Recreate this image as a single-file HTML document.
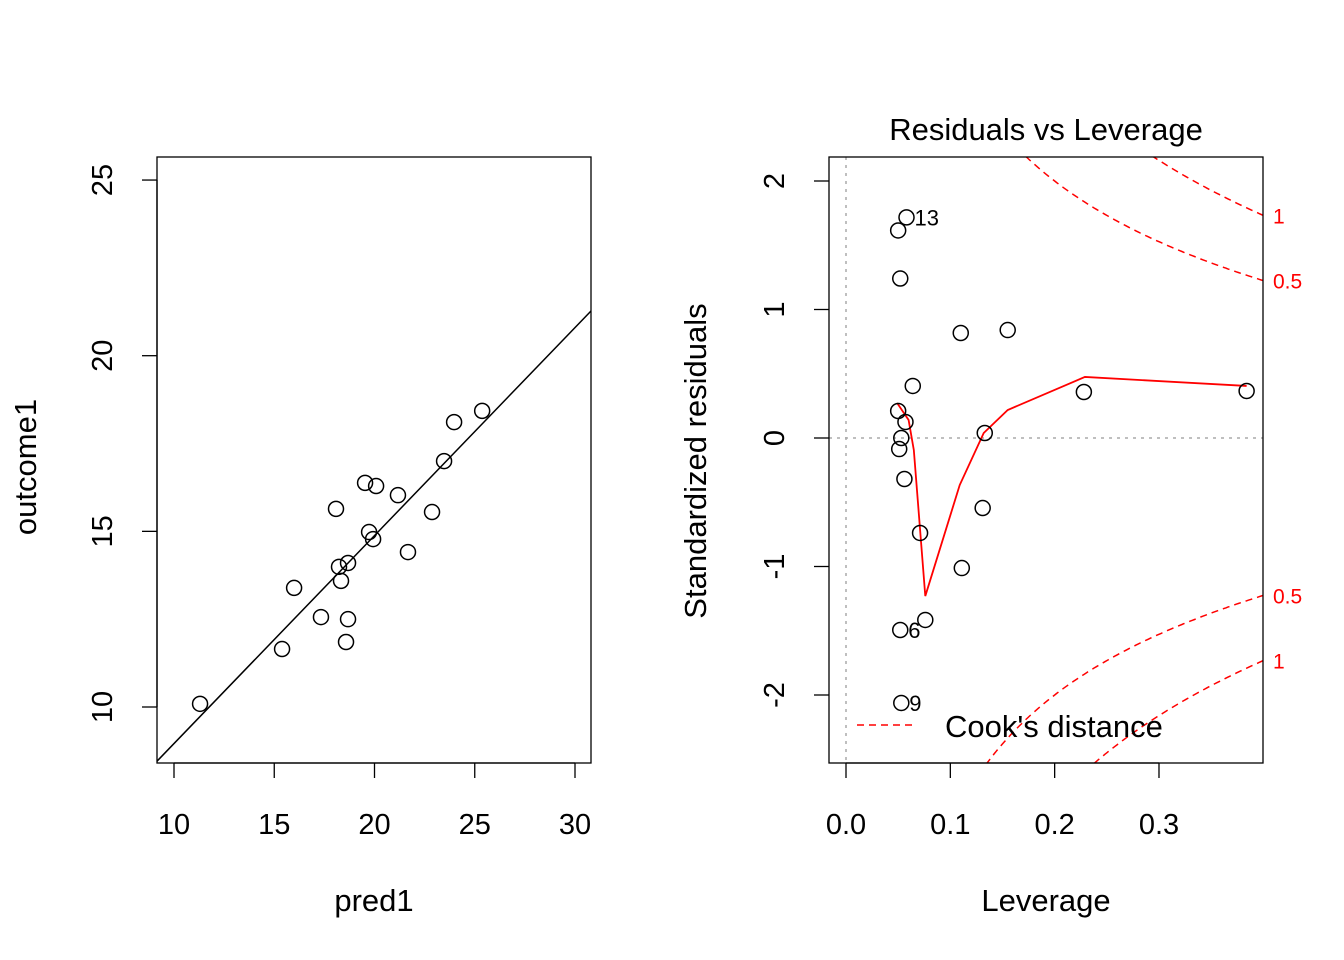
<!DOCTYPE html>
<html><head><meta charset="utf-8"><style>
html,body{margin:0;background:#fff;overflow:hidden;width:1344px;height:960px}
svg{display:block;font-family:"Liberation Sans",Arial,sans-serif}
</style></head><body>
<svg id="s" width="1344" height="960"></svg>
<script>
const predX=[11.30,15.39,15.99,17.33,18.08,18.23,18.33,18.58,18.68,18.68,19.53,19.73,19.93,20.08,21.17,21.67,22.87,23.47,23.97,25.37];
const outcomeY=[10.09,11.65,13.39,12.56,15.64,13.99,13.59,11.85,12.50,14.10,16.38,14.98,14.78,16.29,16.03,14.41,15.55,17.00,18.11,18.43];
const fitIntercept=8.96, fitSlope=0.592;
const leftXTicks=[10,15,20,25,30];
const leftYTicks=[10,15,20,25];
const lev=[0.050,0.058,0.052,0.110,0.155,0.064,0.050,0.057,0.053,0.051,0.056,0.071,0.133,0.131,0.111,0.076,0.052,0.053,0.228,0.384];
const res=[1.615,1.717,1.241,0.817,0.840,0.405,0.210,0.125,0.0,-0.086,-0.319,-0.739,0.039,-0.545,-1.012,-1.416,-1.494,-2.062,0.358,0.366];
const ptLabels={1:"13",16:"6",17:"9"};
const smLev=[0.049,0.060,0.065,0.076,0.109,0.132,0.155,0.229,0.384];
const smRes=[0.272,0.140,-0.093,-1.230,-0.366,0.039,0.218,0.475,0.405];
const rightXTicks=[0.0,0.1,0.2,0.3];
const rightYTicks=[-2,-1,0,1,2];
const cookLevels=[0.5,1];
const NS="http://www.w3.org/2000/svg";const s=document.getElementById('s');
function el(t,a,txt){const e=document.createElementNS(NS,t);for(const k in a)e.setAttribute(k,a[k]);if(txt!==undefined)e.textContent=txt;s.appendChild(e);return e;}
const TF=29, WF=31;
const lx=v=>174+(v-10)*20.05, ly=v=>707-(v-10)*35.13;
let e=el('rect',{x:157,y:157,width:434,height:606,fill:'none',stroke:'#000','stroke-width':1.3});

el('line',{x1:lx(10),x2:lx(30),y1:763,y2:763,stroke:'#000','stroke-width':1.3});
leftXTicks.forEach(t=>{el('line',{x1:lx(t),x2:lx(t),y1:763,y2:778,stroke:'#000','stroke-width':1.3});
 e=el('text',{x:lx(t),y:834,'font-size':TF,'text-anchor':'middle'},String(t));
 });
leftYTicks.forEach(t=>{el('line',{x1:157,x2:142,y1:ly(t),y2:ly(t),stroke:'#000','stroke-width':1.3});
 e=el('text',{x:112,y:ly(t),'font-size':TF,'text-anchor':'middle',transform:`rotate(-90 112 ${ly(t)})`},String(t));
 });
el('line',{x1:157,x2:157,y1:ly(10),y2:ly(25),stroke:'#000','stroke-width':1.3});
e=el('text',{x:374,y:911,'font-size':WF,'text-anchor':'middle'},'pred1');
e=el('text',{x:36,y:467,'font-size':WF,'text-anchor':'middle',transform:'rotate(-90 36 467)'},'outcome1');
const x0=(157-174)/20.05+10,x1=(591-174)/20.05+10;
e=el('line',{x1:157,y1:ly(fitIntercept+fitSlope*(x0-10)),x2:591,y2:ly(fitIntercept+fitSlope*(x1-10)),stroke:'#000','stroke-width':1.5});

predX.forEach((v,i)=>{e=el('circle',{cx:lx(v),cy:ly(outcomeY[i]),r:7.5,fill:'none',stroke:'#000','stroke-width':1.5});
 });
const rx=v=>846+v*1043.3, ry=v=>438-v*128.5;
const cp=el('clipPath',{id:'c'});const cr=document.createElementNS(NS,'rect');
cr.setAttribute('x',829);cr.setAttribute('y',157);cr.setAttribute('width',434);cr.setAttribute('height',606);cp.appendChild(cr);
el('line',{x1:829,x2:1263,y1:ry(0),y2:ry(0),stroke:'#aaa','stroke-width':1.5,'stroke-dasharray':'3 5'});
el('line',{x1:rx(0),x2:rx(0),y1:157,y2:763,stroke:'#aaa','stroke-width':1.5,'stroke-dasharray':'3 5'});
cookLevels.forEach(c=>{[1,-1].forEach(sg=>{let d='';for(let h=0.01;h<=0.401;h+=0.002){const r=sg*Math.sqrt(c*2*(1-h)/h);d+=(d?'L':'M')+rx(h).toFixed(1)+','+ry(r).toFixed(1);}
 e=el('path',{d:d,fill:'none',stroke:'#f00','stroke-width':1.5,'stroke-dasharray':'7 5','clip-path':'url(#c)'});
 
 const yy=ry(sg*Math.sqrt(c*2*0.6/0.4));
 e=el('text',{x:1273,y:yy+8,'font-size':21,fill:'#f00'},String(c));});});
e=el('polyline',{points:smLev.map((v,i)=>rx(v)+','+ry(smRes[i])).join(' '),fill:'none',stroke:'#f00','stroke-width':1.8});

lev.forEach((v,i)=>{e=el('circle',{cx:rx(v),cy:ry(res[i]),r:7.5,fill:'none',stroke:'#000','stroke-width':1.5});
 
 if(ptLabels[i]){e=el('text',{x:rx(v)+8,y:ry(res[i])+8,'font-size':22},ptLabels[i]);}});
e=el('rect',{x:829,y:157,width:434,height:606,fill:'none',stroke:'#000','stroke-width':1.3});
el('line',{x1:rx(0),x2:rx(0.3),y1:763,y2:763,stroke:'#000','stroke-width':1.3});
rightXTicks.forEach(t=>{el('line',{x1:rx(t),x2:rx(t),y1:763,y2:778,stroke:'#000','stroke-width':1.3});
 e=el('text',{x:rx(t),y:834,'font-size':TF,'text-anchor':'middle'},t.toFixed(1));});
rightYTicks.forEach(t=>{el('line',{x1:829,x2:814,y1:ry(t),y2:ry(t),stroke:'#000','stroke-width':1.3});
 e=el('text',{x:784,y:ry(t),'font-size':TF,'text-anchor':'middle',transform:`rotate(-90 784 ${ry(t)})`},String(t));});
e=el('text',{x:1046,y:140,'font-size':WF,'text-anchor':'middle'},'Residuals vs Leverage');
e=el('text',{x:1046,y:911,'font-size':WF,'text-anchor':'middle'},'Leverage');
e=el('text',{x:706,y:461,'font-size':WF,'text-anchor':'middle',transform:'rotate(-90 706 461)'},'Standardized residuals');
e=el('line',{x1:857,x2:913,y1:725,y2:725,stroke:'#f00','stroke-width':1.5,'stroke-dasharray':'7 5'});
e=el('text',{x:945,y:737,'font-size':WF},"Cook's distance");
</script>
</body></html>
